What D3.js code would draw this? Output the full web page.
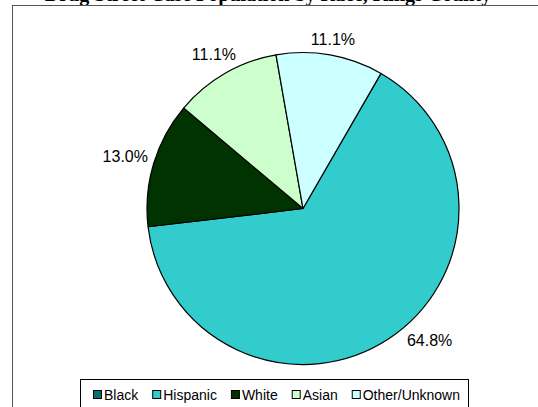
<!DOCTYPE html>
<html>
<head>
<meta charset="utf-8">
<script src="https://cdn.jsdelivr.net/npm/d3@7"></script>
<style>
  html, body { margin: 0; padding: 0; background: #fff; }
  svg { display: block; }
</style>
</head>
<body>
<svg id="chart" width="538" height="407"></svg>
<script>
// ---- data ----
const titleText = "Drug Street Case Population by Race, Kings County";
const categories = ["Black", "Hispanic", "White", "Asian", "Other/Unknown"];
const values = [0, 64.8, 13.0, 11.1, 11.1];
const colors = ["#007070", "#33CCCC", "#003300", "#CCFFCC", "#CCFFFF"];

const W = 538, H = 407;
const svg = d3.select("#chart");

// title (mostly clipped at the top, as in the reference)
svg.append("text")
  .attr("x", 268).attr("y", 0.5)
  .attr("text-anchor", "middle")
  .attr("font-family", "Liberation Serif, Times New Roman, serif")
  .attr("font-weight", "bold")
  .attr("font-size", 20)
  .attr("fill", "#000")
  .text(titleText);

// chart frame
svg.append("rect")
  .attr("x", 12.5).attr("y", 5.5)
  .attr("width", 600).attr("height", 500)
  .attr("fill", "none")
  .attr("stroke", "#555").attr("stroke-width", 1);

// pie
const cx = 303, cy = 208.5, r = 156;
const pie = d3.pie().sort(null).value(d => d.v)
  .startAngle(30 * Math.PI / 180)
  .endAngle(390 * Math.PI / 180);
const data = categories.map((c, i) => ({ c, v: values[i], col: colors[i] }));
const arcs = pie(data);
const arc = d3.arc().innerRadius(0).outerRadius(r);

const g = svg.append("g").attr("transform", `translate(${cx},${cy})`);
g.selectAll("path").data(arcs.filter(d => d.data.v > 0)).join("path")
  .attr("d", arc)
  .attr("fill", d => d.data.col)
  .attr("stroke", "#000").attr("stroke-width", 1.2)
  .attr("stroke-linejoin", "round");

// labels (outside end, kept inside the plot area)
const fmt = d => d.toFixed(1) + "%";
const labelFont = 16, capH = 12.5, pad = 6;
const plotBottom = 346 - cy; // lowest allowed label baseline, relative to centre
const lab = g.selectAll("text.lab").data(arcs.filter(d => d.data.v > 0)).join("text")
  .attr("class", "lab")
  .attr("font-family", "Liberation Sans, Arial, sans-serif")
  .attr("font-size", labelFont)
  .attr("fill", "#000")
  .attr("text-anchor", "middle")
  .text(d => fmt(d.data.v));
lab.each(function(d) {
  const w = this.getComputedTextLength();
  let a = (d.startAngle + d.endAngle) / 2;
  const place = ang => {
    const ux = Math.sin(ang), uy = -Math.cos(ang);
    const dist = r + pad + Math.abs(ux) * w / 2 + Math.abs(uy) * capH / 2;
    return [ux * dist, uy * dist];
  };
  let p = place(a);
  // slide along the pie toward the horizontal if the label would leave the plot area
  let guard = 0;
  while (p[1] + capH / 2 > plotBottom && guard < 400) {
    a += (Math.sin(a) >= 0 ? -1 : 1) * 0.002;
    p = place(a);
    guard++;
  }
  d3.select(this)
    .attr("x", p[0])
    .attr("y", p[1] + capH / 2);
});

// legend
const legY = 379.5, legX0 = 80.5, legX1 = 468.5;
svg.append("rect")
  .attr("x", legX0).attr("y", legY)
  .attr("width", legX1 - legX0).attr("height", 60)
  .attr("fill", "#fff").attr("stroke", "#000").attr("stroke-width", 1);

const legG = svg.append("g");
const items = legG.selectAll("g").data(data).join("g");
items.append("rect")
  .attr("width", 8).attr("height", 8)
  .attr("fill", d => d.col)
  .attr("stroke", "#000").attr("stroke-width", 1);
items.append("text")
  .attr("y", 400)
  .attr("font-family", "Liberation Sans, Arial, sans-serif")
  .attr("font-size", 14)
  .attr("fill", "#000")
  .text(d => d.c);
let widths = [];
items.select("text").each(function() { widths.push(this.getComputedTextLength()); });
const itemW = widths.map(w => 8 + 3 + w);
const gap = 14;
const total = d3.sum(itemW) + gap * (itemW.length - 1);
let x = (legX0 + legX1) / 2 - total / 2 + 2;
items.each(function(d, i) {
  const it = d3.select(this);
  it.select("rect").attr("x", x + 0.5).attr("y", 390.5);
  it.select("text").attr("x", x + 11);
  x += itemW[i] + gap;
});
</script>
</body>
</html>
